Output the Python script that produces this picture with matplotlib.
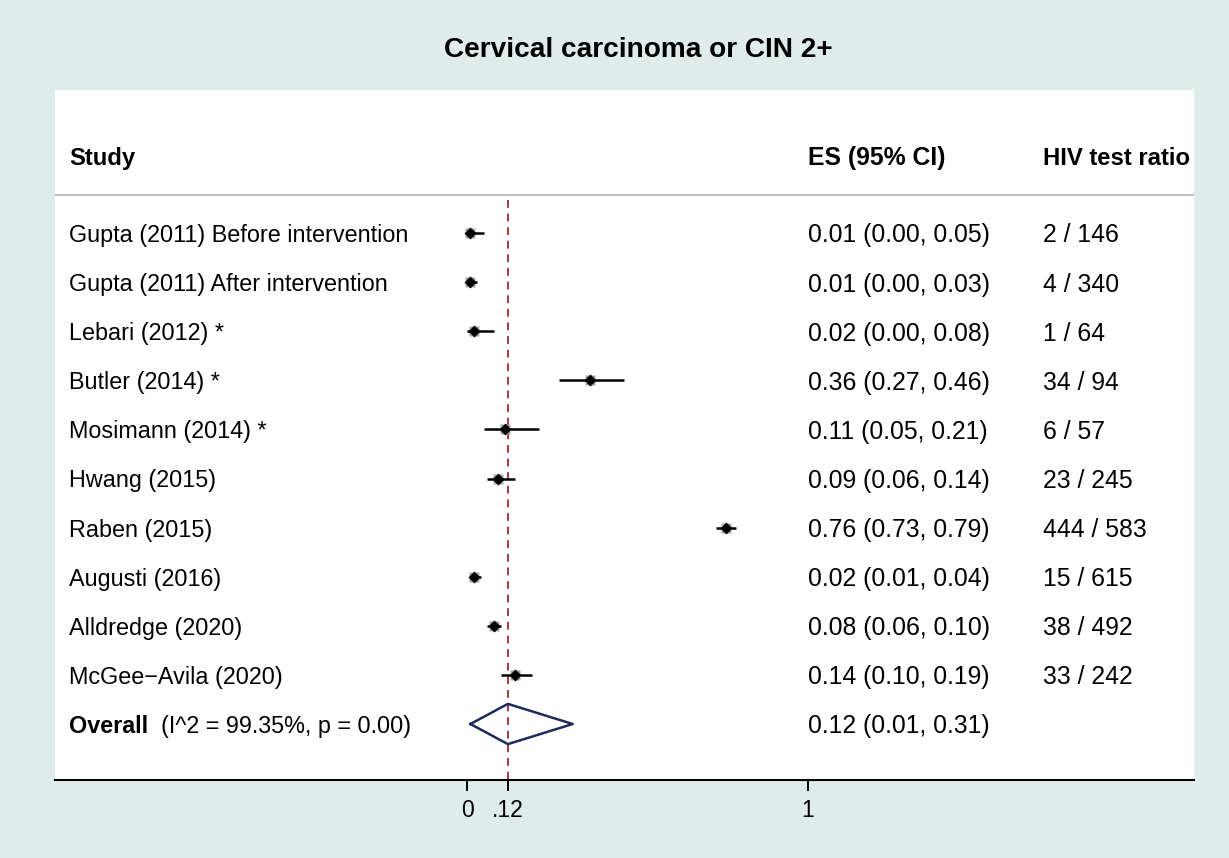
import matplotlib
matplotlib.use("Agg")
import matplotlib.pyplot as plt

plt.rcParams['font.family'] = ['Liberation Sans', 'DejaVu Sans']

studies = ["Gupta (2011) Before intervention", "Gupta (2011) After intervention",
           "Lebari (2012) *", "Butler (2014) *", "Mosimann (2014) *", "Hwang (2015)",
           "Raben (2015)", "Augusti (2016)", "Alldredge (2020)", "McGee\u2212Avila (2020)"]
es = [0.01, 0.01, 0.02, 0.36, 0.11, 0.09, 0.76, 0.02, 0.08, 0.14]
lo = [0.00, 0.00, 0.00, 0.27, 0.05, 0.06, 0.73, 0.01, 0.06, 0.10]
hi = [0.05, 0.03, 0.08, 0.46, 0.21, 0.14, 0.79, 0.04, 0.10, 0.19]
ratios = ["2 / 146", "4 / 340", "1 / 64", "34 / 94", "6 / 57", "23 / 245",
          "444 / 583", "15 / 615", "38 / 492", "33 / 242"]
overall_es, overall_lo, overall_hi = 0.12, 0.01, 0.31
overall_stats = "(I^2 = 99.35%, p = 0.00)"
xticks = [0, 0.12, 1]
xticklabels = ["0", ".12", "1"]

W, H = 1229, 858
fig = plt.figure(figsize=(W / 100, H / 100), dpi=100)
fig.patch.set_facecolor('#e0ecec')

left_px, right_px, top_px, bot_px = 55, 1194, 90, 780
ax = fig.add_axes([left_px / W, 1 - bot_px / H, (right_px - left_px) / W, (bot_px - top_px) / H])
ax.set_facecolor('white')

x0_px, x1_px = 467, 808
scale = x1_px - x0_px
ax.set_xlim((left_px - x0_px) / scale, (right_px - x0_px) / scale)
row0_px, row_h = 233, 49.1
ax.set_ylim((bot_px - row0_px) / row_h, (top_px - row0_px) / row_h)

for s in ['top', 'right', 'left']:
    ax.spines[s].set_visible(False)
ax.spines['bottom'].set_linewidth(1.5)
ax.spines['bottom'].set_color('black')
ax.set_yticks([])
ax.set_xticks(xticks)
ax.set_xticklabels(xticklabels)
ax.tick_params(axis='x', length=8, width=1.4, labelsize=16.5, pad=6, color='black')

xs_col = (69 - x0_px) / scale
es_col = (808 - x0_px) / scale
hiv_col = (1043 - x0_px) / scale
fs_name = 16.8
fs_num = 17.8
fs_head = 17.2
dy = 0.05

# header
yh = (156 - row0_px) / row_h + dy
ax.text(xs_col, yh, "Study", fontsize=fs_head, fontweight='bold', va='center', ha='left')
ax.text(es_col, yh, "ES (95% CI)", fontsize=17.8, fontweight='bold', va='center', ha='left')
ax.text(hiv_col, yh, "HIV test ratio", fontsize=fs_head, fontweight='bold', va='center', ha='left')
ysep = (195 - row0_px) / row_h
ax.axhline(ysep, color='#c0c0c0', lw=1.5)

# reference line
ax.plot([overall_es, overall_es], [ysep + 0.1, (bot_px - row0_px) / row_h], color='#a33a4a',
        lw=1.4, ls=(0, (4, 3)), zorder=1)

for i, (name, e, l, h, r) in enumerate(zip(studies, es, lo, hi, ratios)):
    ax.plot([l, h], [i, i], color='black', lw=1.8, zorder=3, solid_capstyle='butt')
    ax.plot([e], [i], marker='s', ms=7.5, color='#a8a8a8', mec='none', zorder=2)
    ax.plot([e], [i], marker='D', ms=6.5, color='black', mec='none', zorder=4)
    ax.text(xs_col, i + dy, name, fontsize=fs_name, va='center', ha='left')
    ax.text(es_col, i + dy, f"{e:.2f} ({l:.2f}, {h:.2f})", fontsize=fs_num, va='center', ha='left')
    ax.text(hiv_col, i + dy, r, fontsize=fs_num, va='center', ha='left')

yo = len(studies)
dh = 0.41
ax.plot([overall_lo, overall_es, overall_hi, overall_es, overall_lo],
        [yo, yo - dh, yo, yo + dh, yo], color='#1f2a5c', lw=1.8, zorder=3)
t = ax.text(xs_col, yo + dy, "Overall", fontsize=fs_name, fontweight='bold', va='center', ha='left')
ax.annotate("  " + overall_stats, xycoords=t, xy=(1, 0.5), va='center', ha='left', fontsize=fs_name)
ax.text(es_col, yo + dy, f"{overall_es:.2f} ({overall_lo:.2f}, {overall_hi:.2f})", fontsize=fs_num,
        va='center', ha='left')

fig.text(638 / W, 1 - 50 / H, "Cervical carcinoma or CIN 2+", ha='center', va='center',
         fontsize=20.2, fontweight='bold')

fig.savefig("out.png", dpi=100, facecolor=fig.get_facecolor())
